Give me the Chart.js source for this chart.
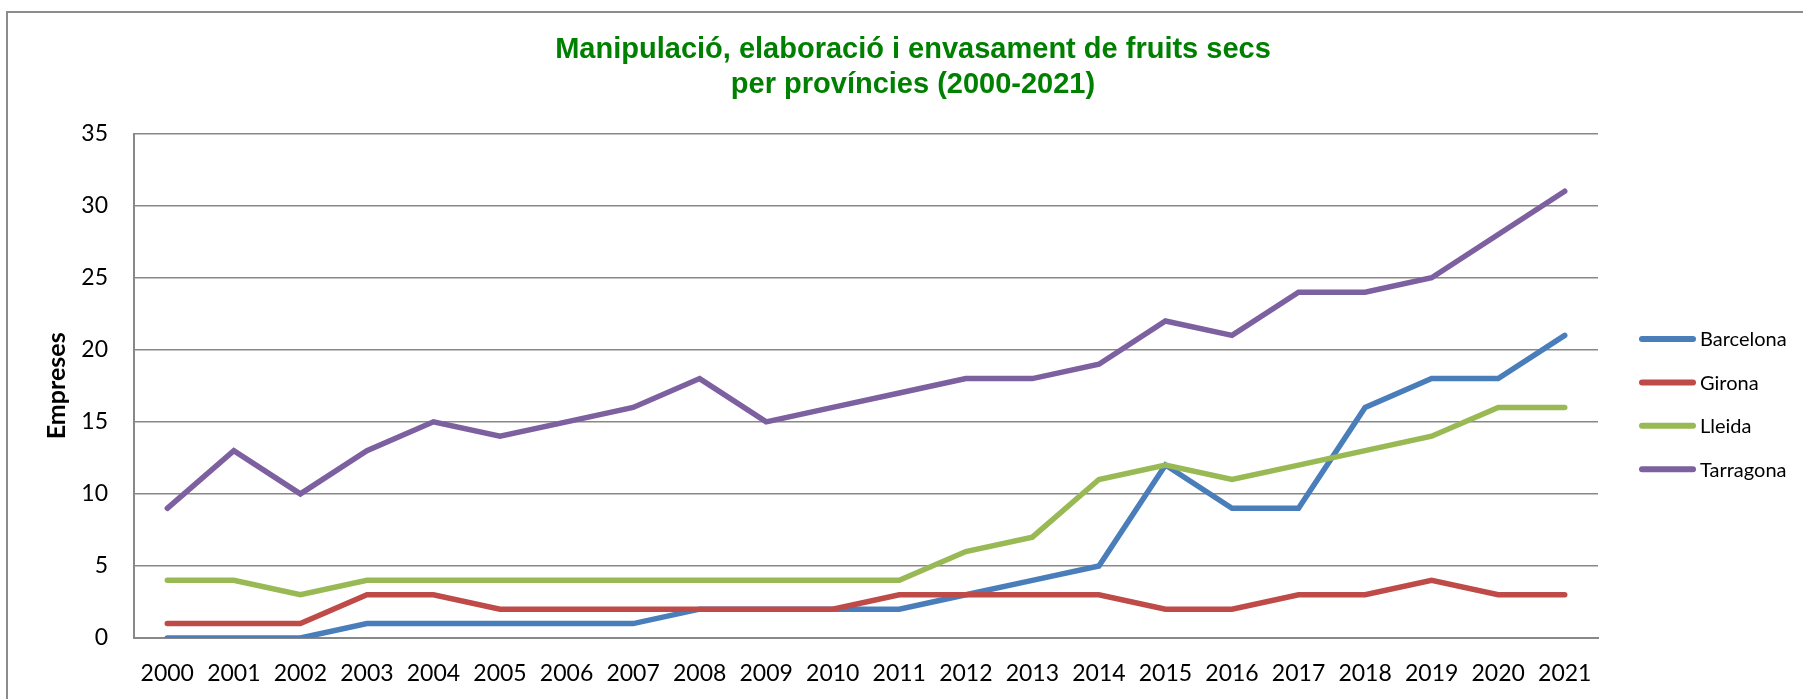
<!DOCTYPE html>
<html>
<head>
<meta charset="utf-8">
<script src="https://cdn.jsdelivr.net/npm/chart.js@4.4.1/dist/chart.umd.min.js"></script>
<style>
  html, body { margin: 0; padding: 0; background: #ffffff; }
  #wrap { width: 1803px; height: 699px; position: relative; }
</style>
</head>
<body>
<div id="wrap"><canvas id="chart"></canvas></div>
<script>
const years = ["2000","2001","2002","2003","2004","2005","2006","2007","2008","2009","2010",
               "2011","2012","2013","2014","2015","2016","2017","2018","2019","2020","2021"];
const barcelona = [0,0,0,1,1,1,1,1,2,2,2,2,3,4,5,12,9,9,16,18,18,21];
const girona    = [1,1,1,3,3,2,2,2,2,2,2,3,3,3,3,2,2,3,3,4,3,3];
const lleida    = [4,4,3,4,4,4,4,4,4,4,4,4,6,7,11,12,11,12,13,14,16,16];
const tarragona = [9,13,10,13,15,14,15,16,18,15,16,17,18,18,19,22,21,24,24,25,28,31];
const yTicks = [0, 5, 10, 15, 20, 25, 30, 35];

const colors = ["#4A7EBB", "#BE4B48", "#98B954", "#7D60A0"];
const gridColor = "#888888";

// frame round the chart, like the spreadsheet chart border
const framePlugin = {
  id: 'frame',
  beforeDraw(chart) {
    const c = chart.ctx;
    c.save();
    c.fillStyle = '#ffffff';
    c.fillRect(0, 0, chart.width, chart.height);
    c.strokeStyle = '#8c8c8c';
    c.lineWidth = 2;
    c.strokeRect(7, 12, chart.width + 20, chart.height + 20);
    c.restore();
  }
};

// legend at the right, drawn by hand so it can sit where the original does
const sideLegend = {
  id: 'sideLegend',
  afterDraw(chart) {
    const c = chart.ctx;
    const x0 = chart.chartArea.right + 44;
    const y0 = 339;
    c.save();
    c.font = '20px Lato';
    c.textBaseline = 'middle';
    c.lineCap = 'round';
    chart.data.datasets.forEach((ds, i) => {
      const y = y0 + i * 43.4;
      c.strokeStyle = ds.borderColor;
      c.lineWidth = 6;
      c.beginPath();
      c.moveTo(x0, y);
      c.lineTo(x0 + 51, y);
      c.stroke();
      c.fillStyle = '#000000';
      c.fillText(ds.label, x0 + 58, y + 1);
    });
    c.restore();
  }
};

const series = [
  { label: "Barcelona", data: barcelona, order: 3 },
  { label: "Girona", data: girona, order: 2 },
  { label: "Lleida", data: lleida, order: 1 },
  { label: "Tarragona", data: tarragona, order: 0 }
];

const ctx = document.getElementById('chart');
const myChart = new Chart(ctx, {
  type: 'line',
  data: {
    labels: years,
    datasets: series.map((s, i) => ({
      label: s.label,
      data: s.data,
      order: s.order,
      borderColor: colors[i],
      backgroundColor: colors[i],
      borderWidth: 5.5,
      pointRadius: 0,
      tension: 0,
      borderCapStyle: 'round'
    }))
  },
  options: {
    responsive: true,
    maintainAspectRatio: false,
    animation: false,
    layout: { padding: { left: 26, right: 3, top: 0, bottom: 6 } },
    plugins: {
      legend: { display: false },
      tooltip: { enabled: false },
      title: {
        display: true,
        text: ["Manipulació, elaboració i envasament de fruits secs", "per províncies (2000-2021)"],
        color: '#008000',
        font: { family: 'Liberation Sans', size: 29, weight: 'bold', lineHeight: 1.2 },
        padding: { top: 33, bottom: 31 }
      }
    },
    scales: {
      x: {
        offset: true,
        grid: { display: false, drawTicks: false },
        border: { display: true, color: gridColor, width: 2 },
        ticks: { color: '#000000', font: { family: 'Lato', size: 23 }, padding: 22, maxRotation: 0, autoSkip: false },
        afterFit: axis => { axis.height = 55; }
      },
      y: {
        min: 0,
        max: 35,
        afterBuildTicks: axis => { axis.ticks = yTicks.map(v => ({ value: v })); },
        grid: { color: gridColor, lineWidth: 1.6, drawTicks: false },
        border: { display: true, color: gridColor, width: 2 },
        ticks: { color: '#000000', font: { family: 'Lato', size: 23 }, padding: 26 },
        title: {
          display: true,
          text: 'Empreses',
          color: '#000000',
          font: { family: 'Lato', size: 25, weight: 'bold' },
          padding: { top: 16, bottom: 0 }
        },
        afterFit: axis => { axis.width = 108; }
      },
      spacer: {
        position: 'right',
        display: true,
        grid: { display: false, drawTicks: false },
        border: { display: false },
        ticks: { display: false },
        afterFit: axis => { axis.width = 202; }
      }
    }
  },
  plugins: [framePlugin, sideLegend]
});
</script>
</body>
</html>
